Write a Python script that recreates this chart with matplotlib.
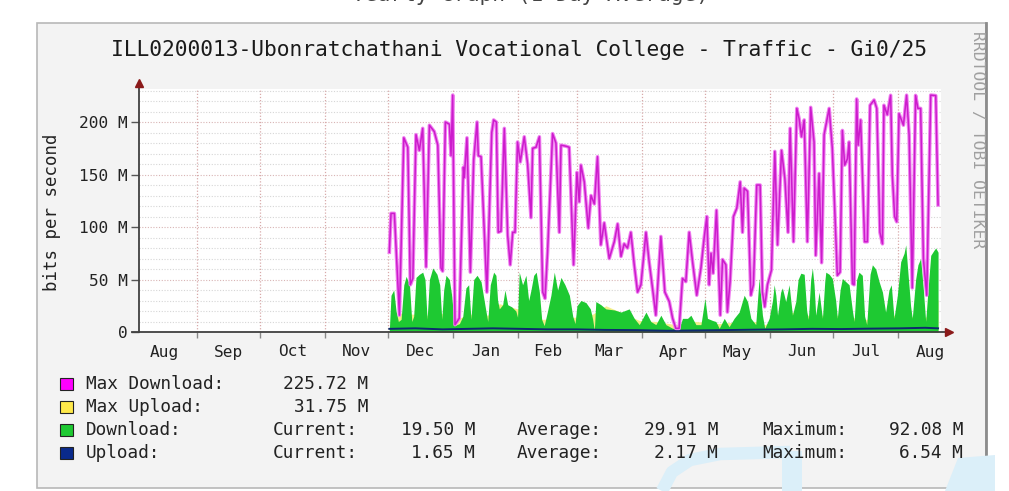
import matplotlib
matplotlib.use("Agg")
import matplotlib.pyplot as plt
from matplotlib.patches import Rectangle, Polygon
from matplotlib.lines import Line2D

# x values are days counted from 1 Aug of the first year
month_starts = [0, 31, 61, 92, 122, 153, 184, 212, 243, 273, 304, 334, 365, 396]
month_names = ["Aug", "Sep", "Oct", "Nov", "Dec", "Jan", "Feb", "Mar",
               "Apr", "May", "Jun", "Jul", "Aug"]

y_ticks = [0, 50, 100, 150, 200]
y_tick_labels = ["0", "50 M", "100 M", "150 M", "200 M"]

# Max Download (Mbit/s)
max_dl_days = [122.6, 123.4, 125.0, 127.4, 129.5, 131.4, 132.6, 133.8, 135.3, 136.9,
               138.5, 140.1, 141.7, 144.0, 145.7, 147.2, 148.0, 149.3, 151.2, 152.0,
               152.8, 153.9, 155.9, 157.9, 158.3, 159.6, 161.2, 162.8, 164.4, 165.0,
               166.3, 169.1, 171.4, 172.3, 173.6, 174.5, 175.8, 177.4, 179.0, 180.2,
               181.4, 182.5, 183.7, 185.0, 186.9, 188.5, 190.1, 190.9, 192.5, 194.1,
               195.7, 196.8, 198.0, 200.4, 202.0, 203.6, 204.4, 206.8, 208.3, 210.4,
               212.0, 213.1, 213.9, 215.5, 217.4, 218.7, 220.3, 221.8, 223.4, 225.0,
               227.4, 229.8, 231.4, 233.0, 234.5, 236.1, 237.7, 239.3, 240.9, 242.5,
               244.9, 246.4, 248.0, 249.6, 252.0, 253.9, 256.0, 257.6, 259.1, 260.7,
               262.3, 263.9, 265.5, 267.1, 269.1, 271.1, 272.6, 273.9, 275.0, 275.9,
               276.9, 278.5, 280.3, 281.4, 283.0, 283.7, 285.0, 286.6, 288.2, 289.8,
               290.9, 291.7, 293.3, 294.9, 296.1, 297.7, 299.3, 300.4, 301.5, 302.8,
               304.7, 306.3, 307.6, 309.5, 311.1, 312.6, 313.6, 315.2, 316.8, 317.9,
               319.0, 320.3, 321.8, 323.4, 325.0, 325.8, 327.4, 328.6, 329.8, 332.2,
               333.7, 336.1, 337.4, 338.5, 339.6, 340.9, 341.7, 343.3, 344.1, 345.3,
               346.0, 347.2, 349.1, 350.4, 351.7, 353.6, 354.9, 356.4, 357.6, 358.3,
               359.9, 361.5, 362.3, 363.4, 364.4, 365.5, 367.6, 369.1, 370.3, 371.8,
               373.4, 374.5, 375.8, 377.1, 378.7, 380.6, 383.0, 384.1]
max_dl = [76, 113, 113, 16, 185, 176, 45, 51, 188, 173,
          194, 62, 197, 191, 178, 61, 58, 200, 198, 168,
          225.7, 7, 13, 157, 147, 185, 57, 164, 200, 168,
          167, 38, 190, 202, 200, 95, 96, 194, 92, 64,
          95, 95, 181, 162, 186, 160, 109, 175, 176, 186,
          38, 32, 76, 189, 180, 95, 178, 177, 176, 64,
          152, 124, 159, 143, 99, 130, 122, 167, 83, 104,
          70, 86, 103, 72, 84, 80, 95, 64, 38, 45,
          95, 67, 42, 16, 91, 38, 29, 13, 3.5, 3.5,
          51, 48, 95, 67, 35, 61, 89, 110, 45, 75,
          56, 116, 16, 69, 64, 19, 48, 110, 118, 143,
          95, 137, 134, 35, 45, 140, 140, 38, 24, 45,
          59, 172, 83, 173, 146, 95, 194, 86, 213, 203,
          186, 202, 86, 214, 181, 73, 151, 66, 188, 213,
          175, 54, 57, 192, 159, 165, 181, 46, 45, 222,
          178, 202, 86, 86, 216, 221, 213, 95, 84, 216,
          207, 225.5, 150, 110, 105, 208, 197, 225.6, 188, 42,
          225.4, 213, 213, 70, 35, 225.7, 225.2, 121]

# Download average (Mbit/s)
dl_days = [122.6, 123.4, 124.7, 125.8, 126.9, 128.2, 129.5, 130.6, 132.2, 133.3,
           134.2, 135.3, 136.9, 138.5, 139.6, 140.6, 141.7, 143.3, 145.3, 146.6,
           147.6, 148.5, 149.6, 151.2, 152.3, 153.6, 156.0, 157.6, 159.1, 160.4,
           161.5, 162.8, 164.4, 166.3, 168.2, 169.5, 170.7, 172.3, 173.4, 174.2,
           175.0, 176.6, 177.7, 179.0, 180.9, 182.9, 183.7, 184.5, 186.1, 187.7,
           189.0, 190.1, 191.4, 192.6, 194.1, 195.2, 196.4, 198.0, 199.6, 201.2,
           202.8, 204.4, 206.3, 208.4, 210.0, 211.1, 212.0, 213.9, 216.3, 218.4,
           219.5, 220.3, 221.0, 223.4, 225.8,
           229.8, 233.0, 236.9, 239.3, 241.7, 244.9, 247.2, 249.6, 252.0, 254.4,
           257.6, 260.7, 262.3, 264.7, 266.3, 268.7, 271.1, 273.0, 274.2, 276.6,
           278.2, 279.8, 282.2, 284.5, 286.9, 289.3, 291.7, 293.3, 294.9, 297.2,
           298.8, 300.4, 301.5, 303.6,
           305.2, 306.0, 306.8, 307.6, 309.1, 309.9, 311.5, 313.1, 314.7, 316.3,
           317.4, 318.7, 320.3, 321.5, 322.3, 323.4, 324.2, 325.0, 325.8, 327.4,
           329.0, 330.1, 330.6, 332.2, 333.7, 335.3, 336.1, 337.4, 338.5, 340.1,
           341.7, 343.3, 344.1, 345.3, 346.4, 348.0, 349.1, 350.1, 351.7, 352.8,
           354.4, 356.0, 357.6, 359.1, 360.7, 361.8, 363.1, 364.7, 366.3, 367.9,
           368.7, 369.8, 371.0, 371.8, 373.4, 374.5, 375.8, 377.1, 378.2, 379.3,
           380.6, 382.2, 383.0, 384.1]
dl = [2, 35, 40, 20, 10, 12, 45, 53, 45, 10,
      15, 52, 55, 57, 50, 12, 50, 61, 55, 45,
      12, 40, 54, 50, 35, 6, 8, 15, 42, 45,
      12, 50, 54, 48, 25, 10, 45, 57, 54, 30,
      22, 26, 40, 26, 24, 20, 14, 57, 45, 54,
      30, 40, 54, 57, 38, 12, 6, 20, 35, 57,
      40, 52, 45, 35, 15, 8, 25, 30, 28, 22,
      12, 1.5, 29, 26, 22,
      21, 19, 22, 13, 7, 19, 10, 7, 16, 7,
      3.5, 3.5, 13, 13, 16, 7, 7, 32, 13, 11,
      10, 3.5, 13, 5, 13, 19, 35, 29, 13, 7,
      51, 16, 3.5, 13,
      30, 45, 35, 16, 38, 42, 29, 45, 16, 29,
      50, 56, 55, 20, 12, 50, 61, 45, 16, 38,
      13, 48, 57, 55, 51, 30, 13, 40, 51, 48,
      45, 20, 10, 50, 57, 54, 15, 7, 55, 64,
      60, 48, 38, 19, 40, 45, 13, 35, 67, 75,
      83, 55, 25, 13, 50, 64, 70, 40, 10, 40,
      73, 78, 80, 76]

# Max Upload (Mbit/s)
max_ul_days = [122.6, 127.4, 133.8, 140.9, 147.2, 153.9, 161.5, 169.5, 175.0, 183.7,
               195.7, 210.7, 219.5, 225.8, 241.7, 249.6, 259.1, 268.7, 279.8, 284.5,
               297.2, 301.5, 314.7, 321.8, 336.1, 349.6, 363.1, 378.2, 384.1]
max_ul = [5, 18, 17, 16, 18, 12, 17, 16, 27, 22,
          12, 14, 17, 25, 11, 10, 7, 10, 8, 9,
          10, 7, 19, 16, 16, 12, 16, 14, 31]

# Upload average (Mbit/s)
ul_days = [122.6, 135, 148, 160, 172, 185, 198, 212, 225, 240,
           255, 268, 282, 296, 310, 324, 338, 352, 366, 378, 384.1]
ul = [3.0, 3.5, 2.5, 3.0, 3.5, 3.0, 2.5, 2.5, 2.0, 1.8,
      1.2, 1.5, 1.8, 2.2, 2.5, 3.0, 2.8, 3.2, 3.5, 4.0, 3.5]

legend_names = ["Max Download:", "Max Upload:", "Download:", "Upload:"]
legend_colors = ["#ff00ff", "#ffe94a", "#1ec932", "#0a2a8c"]
max_values = ["225.72 M", "31.75 M"]
current_values = ["19.50 M", "1.65 M"]
average_values = ["29.91 M", "2.17 M"]
maximum_values = ["92.08 M", "6.54 M"]

MONO = "DejaVu Sans Mono"
W, H = 1009, 491


def px(x):
    return x / W


def py(y):
    return 1 - y / H


def main():
    fig = plt.figure(figsize=(W / 100, H / 100), dpi=100, facecolor="white")

    # rrdtool canvas frame
    fig.patches.append(Rectangle((px(37), py(488)), px(986 - 37), (488 - 23) / H,
                                 transform=fig.transFigure, facecolor="#f3f3f3",
                                 edgecolor="#b8b8b8", lw=1.2, zorder=-2))
    fig.add_artist(Line2D([px(986), px(986)], [py(23), py(488)], color="#8c8c8c", lw=2, zorder=-1))

    # faint blue watermark pieces at the bottom right of the screenshot
    wm = "#dbeff9"
    fig.add_artist(Line2D([px(662), px(672), px(690), px(720), px(790)],
                          [py(491), py(472), py(460), py(454), py(452)],
                          color=wm, lw=9, solid_capstyle="butt", zorder=-1))
    fig.patches.append(Rectangle((px(782), py(491)), 20 / W, 40 / H, transform=fig.transFigure,
                                 facecolor=wm, lw=0, zorder=-1))
    fig.patches.append(Polygon([(px(945), py(491)), (px(958), py(458)), (px(995), py(455)),
                                (px(995), py(491))], closed=True, transform=fig.transFigure,
                               facecolor=wm, lw=0, zorder=-1))

    ax = fig.add_axes([px(139), py(332), px(941 - 139), (332 - 89) / H])
    ax.set_zorder(2)
    ax.set_facecolor("white")
    ax.set_xlim(3.3, 385.5)
    ax.set_ylim(0, 231.5)

    # grid
    for v in range(10, 231, 10):
        col = "#d8b4b4" if v % 50 == 0 else "#d6d6d6"
        ax.axhline(v, color=col, ls=(0, (1, 1.5)), lw=0.8, zorder=0)
    for d in month_starts[1:-1]:
        ax.axvline(d, color="#d8aaaa", ls=(0, (1, 1.5)), lw=0.9, zorder=0)

    ax.fill_between(max_ul_days, max_ul, color="#f3ef8a", lw=0, zorder=1)
    ax.fill_between(dl_days, dl, color="#1ec932", lw=0, zorder=2)
    ax.plot(ul_days, ul, color="#0d2a6e", lw=1.4, zorder=3)
    ax.plot(max_dl_days, max_dl, color="#f080f0", lw=2.6, zorder=4)
    ax.plot(max_dl_days, max_dl, color="#cc1ccc", lw=1.1, zorder=5)

    for s in ["top", "right", "left", "bottom"]:
        ax.spines[s].set_visible(False)
    # axis lines with arrow heads
    ax.plot([0, 0], [0, 1.025], color="#404040", lw=1.3, transform=ax.transAxes, clip_on=False)
    ax.plot([-0.009, 1.01], [0, 0], color="#404040", lw=1.3, transform=ax.transAxes, clip_on=False)
    ax.plot([0], [1.025], marker="^", color="#8b1a1a", ms=6, transform=ax.transAxes, clip_on=False)
    ax.plot([1.01], [0], marker=">", color="#8b1a1a", ms=6, transform=ax.transAxes, clip_on=False)

    ax.set_yticks(y_ticks)
    ax.set_yticklabels(y_tick_labels, fontfamily=MONO, fontsize=11.6, color="#222222")
    ax.tick_params(axis="y", length=6, width=1, color="#555555", pad=2)

    mids = [(month_starts[i] + month_starts[i + 1]) / 2 for i in range(len(month_names))]
    ax.set_xticks(month_starts[1:-1])
    ax.set_xticklabels([])
    ax.tick_params(axis="x", which="major", length=4, width=1, color="#888888")
    ax.set_xticks(mids, minor=True)
    ax.set_xticklabels(month_names, minor=True, fontfamily=MONO, fontsize=11.6, color="#222222")
    ax.tick_params(axis="x", which="minor", length=0, pad=9)

    # graph header cut off by the top edge of the screenshot
    fig.text(px(530), py(1), "Yearly Graph (1 Day Average)", fontfamily=MONO,
             fontsize=15.3, color="#444444", ha="center", va="baseline")
    fig.text(px(519), py(50), "ILL0200013-Ubonratchathani Vocational College - Traffic - Gi0/25",
             fontfamily=MONO, fontsize=15.3, color="#1a1a1a", ha="center", va="center")
    fig.text(px(52), py(212), "bits per second", fontfamily=MONO, fontsize=12.5,
             color="#222222", rotation=90, ha="center", va="center")
    fig.text(px(977), py(140), "RRDTOOL / TOBI OETIKER", fontfamily=MONO, fontsize=11.8,
             color="#a0a0a0", rotation=270, ha="center", va="center")

    # legend
    rows = [384, 407, 430, 453]
    for i, (name, col) in enumerate(zip(legend_names, legend_colors)):
        y = rows[i]
        fig.patches.append(Rectangle((px(60), py(y + 6)), 13 / W, 12 / H,
                                     transform=fig.transFigure, facecolor=col,
                                     edgecolor="#222222", lw=0.8))
        fig.text(px(86), py(y), name, fontfamily=MONO, fontsize=12.8,
                 color="#222222", ha="left", va="center")
    for i, val in enumerate(max_values):
        fig.text(px(368), py(rows[i]), val, fontfamily=MONO, fontsize=12.8,
                 color="#222222", ha="right", va="center")
    for j in range(2):
        y = py(rows[2 + j])
        fig.text(px(273), y, "Current:", fontfamily=MONO, fontsize=12.8, color="#222222", va="center")
        fig.text(px(475), y, current_values[j], fontfamily=MONO, fontsize=12.8,
                 color="#222222", ha="right", va="center")
        fig.text(px(517), y, "Average:", fontfamily=MONO, fontsize=12.8, color="#222222", va="center")
        fig.text(px(718), y, average_values[j], fontfamily=MONO, fontsize=12.8,
                 color="#222222", ha="right", va="center")
        fig.text(px(762), y, "Maximum:", fontfamily=MONO, fontsize=12.8, color="#222222", va="center")
        fig.text(px(963), y, maximum_values[j], fontfamily=MONO, fontsize=12.8,
                 color="#222222", ha="right", va="center")

    fig.savefig("out.png", dpi=100, facecolor=fig.get_facecolor())


if __name__ == "__main__":
    main()
